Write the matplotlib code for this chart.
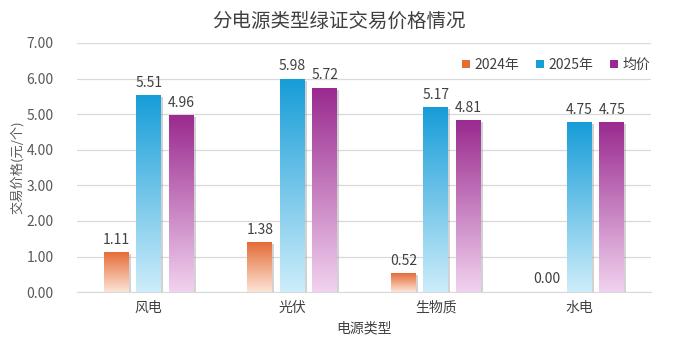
import numpy as np
import matplotlib.pyplot as plt
import matplotlib.patheffects as pe
from matplotlib.colors import LinearSegmentedColormap
from matplotlib.patches import Patch

plt.rcParams['font.family'] = ['Noto Sans CJK SC', 'DejaVu Sans']

# data
categories = ['风电', '光伏', '生物质', '水电']
series_names = ['2024年', '2025年', '均价']
price_2024 = [1.11, 1.38, 0.52, 0.00]
price_2025 = [5.51, 5.98, 5.17, 4.75]
price_avg = [4.96, 5.72, 4.81, 4.75]

series = [price_2024, price_2025, price_avg]
tops = ['#E46C37', '#179DD8', '#9A2A8F']
bottoms = ['#FCE4D6', '#CDEDFA', '#F1D2EF']

fig = plt.figure(figsize=(6.78, 3.55), dpi=100)
ax = fig.add_axes([0.1136, 0.177, 0.8466, 0.702])

x = np.arange(len(categories))
width = 0.174
offsets = [-0.226, 0, 0.226]
grad = np.linspace(0, 1, 256).reshape(-1, 1)

for vals, off, top, bot in zip(series, offsets, tops, bottoms):
    cmap = LinearSegmentedColormap.from_list('g', [bot, top])
    bars = ax.bar(x + off, vals, width, color='white', edgecolor='none', zorder=2,
                  path_effects=[pe.SimplePatchShadow(offset=(1.5, -1), shadow_rgbFace='#808080', alpha=0.35),
                                pe.Normal()])
    for b, v in zip(bars, vals):
        if v > 0:
            ax.imshow(grad, cmap=cmap, origin='lower', aspect='auto', zorder=3,
                      extent=[b.get_x(), b.get_x() + b.get_width(), 0, v])
        ax.text(b.get_x() + b.get_width() / 2, v + 0.17, f'{v:.2f}', ha='center', va='bottom',
                fontsize=10, color='#404040', zorder=4)

ax.set_xlim(-0.5, 3.5)
ax.set_ylim(0, 7)
ax.set_yticks(np.arange(0, 8, 1))
ax.set_yticklabels([f'{t:.2f}' for t in range(8)])
ax.set_xticks(x)
ax.set_xticklabels(categories, fontsize=10, color='#404040')
ax.tick_params(axis='y', length=0, pad=17, labelsize=10, labelcolor='#595959')
ax.tick_params(axis='x', length=0, pad=6)
ax.grid(axis='y', color='#D9D9D9', linewidth=0.9, zorder=0)
ax.set_axisbelow(True)
for s in ['top', 'right', 'left']:
    ax.spines[s].set_visible(False)
ax.spines['bottom'].set_color('#D9D9D9')

ax.set_xlabel('电源类型', fontsize=10, color='#404040', labelpad=5)
ax.set_ylabel('交易价格(元/个)', fontsize=9.5, color='#595959', labelpad=2)
fig.text(0.5, 0.94, '分电源类型绿证交易价格情况', ha='center', va='center', fontsize=14, color='#404040')

handles = [Patch(facecolor=t, edgecolor='none') for t in tops]
ax.legend(handles, series_names, loc='upper right', bbox_to_anchor=(1.02, 0.99), ncol=3, frameon=False,
          fontsize=10, handlelength=0.6, handleheight=0.6, handletextpad=0.3, columnspacing=1.2,
          labelcolor='#404040')

fig.savefig('out.png', dpi=100)
